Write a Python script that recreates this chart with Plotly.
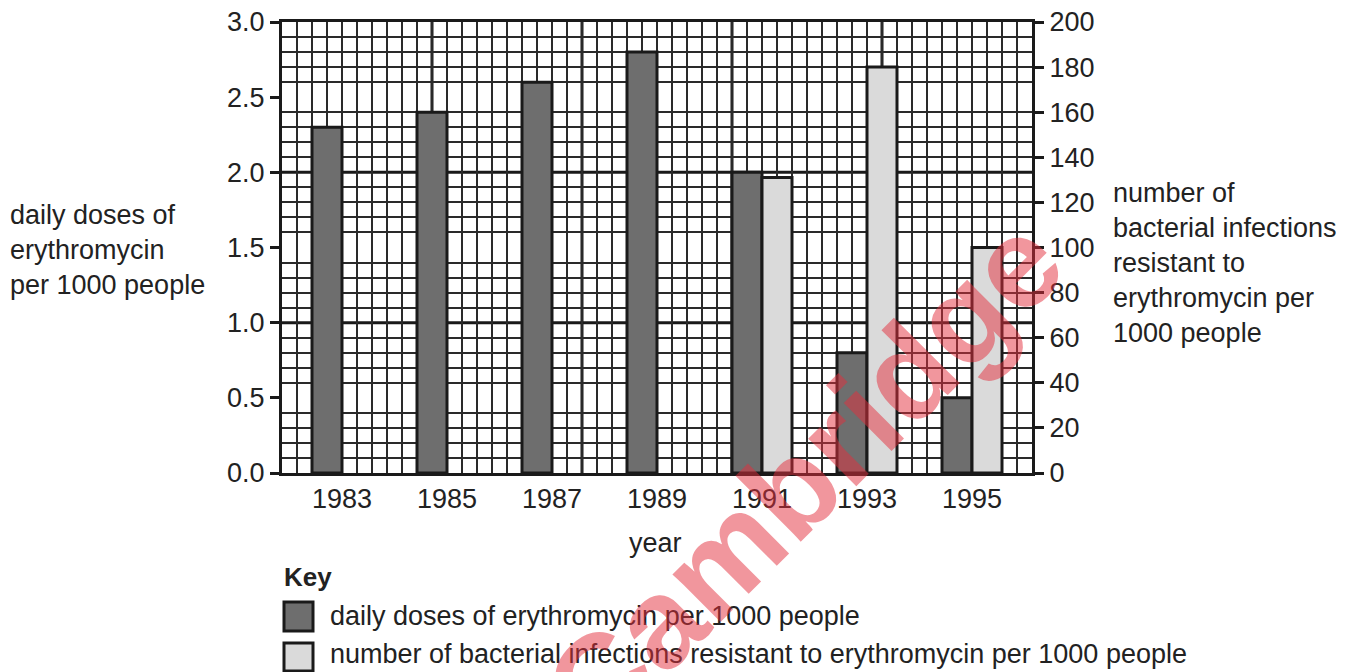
import plotly.graph_objects as go

# ---- data ----
years = [1983, 1985, 1987, 1989, 1991, 1993, 1995]
doses = [2.3, 2.4, 2.6, 2.8, 2.0, 0.8, 0.5]
infection_years = [1991, 1993, 1995]
infections = [131, 180, 100]
tick_labels = [str(y) for y in years]

dark_col = "#6e6e6e"
light_col = "#dadada"
line_col = "#1a1a1a"
text_col = "#222222"
FONT = "Liberation Sans, Arial, sans-serif"
FS = 27

cell = 2 / 7  # one grid cell in year units
x0 = years[0] - 4 * cell
x1 = x0 + 50 * cell
bw = 2 * cell

fig = go.Figure()
fig.add_trace(go.Bar(
    x=years, y=doses, width=bw, offset=-bw,
    marker=dict(color=dark_col, line=dict(color=line_col, width=3)),
    name="daily doses of erythromycin per 1000 people", yaxis="y",
))
fig.add_trace(go.Bar(
    x=infection_years, y=infections, width=bw, offset=0,
    marker=dict(color=light_col, line=dict(color=line_col, width=3)),
    name="number of bacterial infections resistant to erythromycin per 1000 people",
    yaxis="y2",
))

grid_minor = dict(showgrid=True, gridcolor="#2a2a2a", gridwidth=1.5, ticks="")

fig.update_layout(
    width=1355, height=672,
    margin=dict(l=282, r=323, t=22, b=199, autoexpand=False),
    paper_bgcolor="white", plot_bgcolor="white",
    barmode="overlay", showlegend=False,
    font=dict(family=FONT, size=FS, color=text_col),
    xaxis=dict(
        range=[x0, x1], tickmode="array", tickvals=years, ticktext=tick_labels,
        showgrid=False, zeroline=False, ticks="",
        showline=True, linecolor=line_col, linewidth=3, mirror=True,
        minor=dict(tickmode="linear", tick0=x0, dtick=cell, **grid_minor),
        tickfont=dict(size=FS, color=text_col),
    ),
    yaxis=dict(
        range=[0, 3], tickmode="linear", tick0=0, dtick=0.5, tickformat=".1f",
        showgrid=False, zeroline=False,
        ticks="outside", ticklen=9, tickwidth=3, tickcolor=line_col,
        showline=True, linecolor=line_col, linewidth=3,
        minor=dict(tickmode="linear", tick0=0, dtick=0.1, **grid_minor),
        tickfont=dict(size=FS, color=text_col),
    ),
    yaxis2=dict(
        range=[0, 200], tickmode="linear", tick0=0, dtick=20,
        overlaying="y", side="right", showgrid=False, zeroline=False,
        ticks="outside", ticklen=9, tickwidth=3, tickcolor=line_col,
        showline=True, linecolor=line_col, linewidth=3,
        tickfont=dict(size=FS, color=text_col),
    ),
)

# thick major grid lines every 10 cells
shapes = []
for k in range(1, 5):
    xv = x0 + 10 * k * cell
    shapes.append(dict(type="line", xref="x", yref="paper", x0=xv, x1=xv, y0=0, y1=1,
                       line=dict(color=line_col, width=3), layer="between"))
for yv in [1.0, 2.0]:
    shapes.append(dict(type="line", xref="paper", yref="y", x0=0, x1=1, y0=yv, y1=yv,
                       line=dict(color=line_col, width=3), layer="between"))

# key boxes (paper coords from pixel positions)
def px(x):
    return (x - 282) / 750
def py(y):
    return (473 - y) / 451

shapes.append(dict(type="rect", xref="paper", yref="paper",
                   x0=px(284), x1=px(313), y0=py(631), y1=py(602),
                   fillcolor=dark_col, line=dict(color=line_col, width=3)))
shapes.append(dict(type="rect", xref="paper", yref="paper",
                   x0=px(284), x1=px(313), y0=py(671), y1=py(643),
                   fillcolor=light_col, line=dict(color=line_col, width=3)))
fig.update_layout(shapes=shapes)

ann = []
ann.append(dict(text="daily doses of<br>erythromycin<br>per 1000 people",
                xref="paper", yref="paper", x=px(8), y=py(250),
                xanchor="left", yanchor="middle", align="left", showarrow=False,
                font=dict(size=FS, color=text_col)))
ann.append(dict(text="number of<br>bacterial infections<br>resistant to<br>erythromycin per<br>1000 people",
                xref="paper", yref="paper", x=px(1111), y=py(263),
                xanchor="left", yanchor="middle", align="left", showarrow=False,
                font=dict(size=FS, color=text_col)))
ann.append(dict(text="year", xref="paper", yref="paper", x=px(655), y=py(543),
                xanchor="center", yanchor="middle", showarrow=False,
                font=dict(size=FS, color=text_col)))
ann.append(dict(text="<b>Key</b>", xref="paper", yref="paper", x=px(282), y=py(577),
                xanchor="left", yanchor="middle", showarrow=False,
                font=dict(size=FS - 1, color=text_col)))
ann.append(dict(text="daily doses of erythromycin per 1000 people",
                xref="paper", yref="paper", x=px(328), y=py(616),
                xanchor="left", yanchor="middle", showarrow=False,
                font=dict(size=FS, color=text_col)))
ann.append(dict(text="number of bacterial infections resistant to erythromycin per 1000 people",
                xref="paper", yref="paper", x=px(328), y=py(654),
                xanchor="left", yanchor="middle", showarrow=False,
                font=dict(size=FS, color=text_col)))
# watermark
ann.append(dict(text="<b>Cambridge</b>", xref="paper", yref="paper", x=px(803), y=py(476),
                xanchor="center", yanchor="middle", showarrow=False, textangle=-45,
                font=dict(size=128, color="rgba(228,45,60,0.5)", family=FONT)))
fig.update_layout(annotations=ann)

fig.write_html("out.html", config={"displayModeBar": False},
               post_script="document.body.style.margin='0';document.body.style.overflow='hidden';")
